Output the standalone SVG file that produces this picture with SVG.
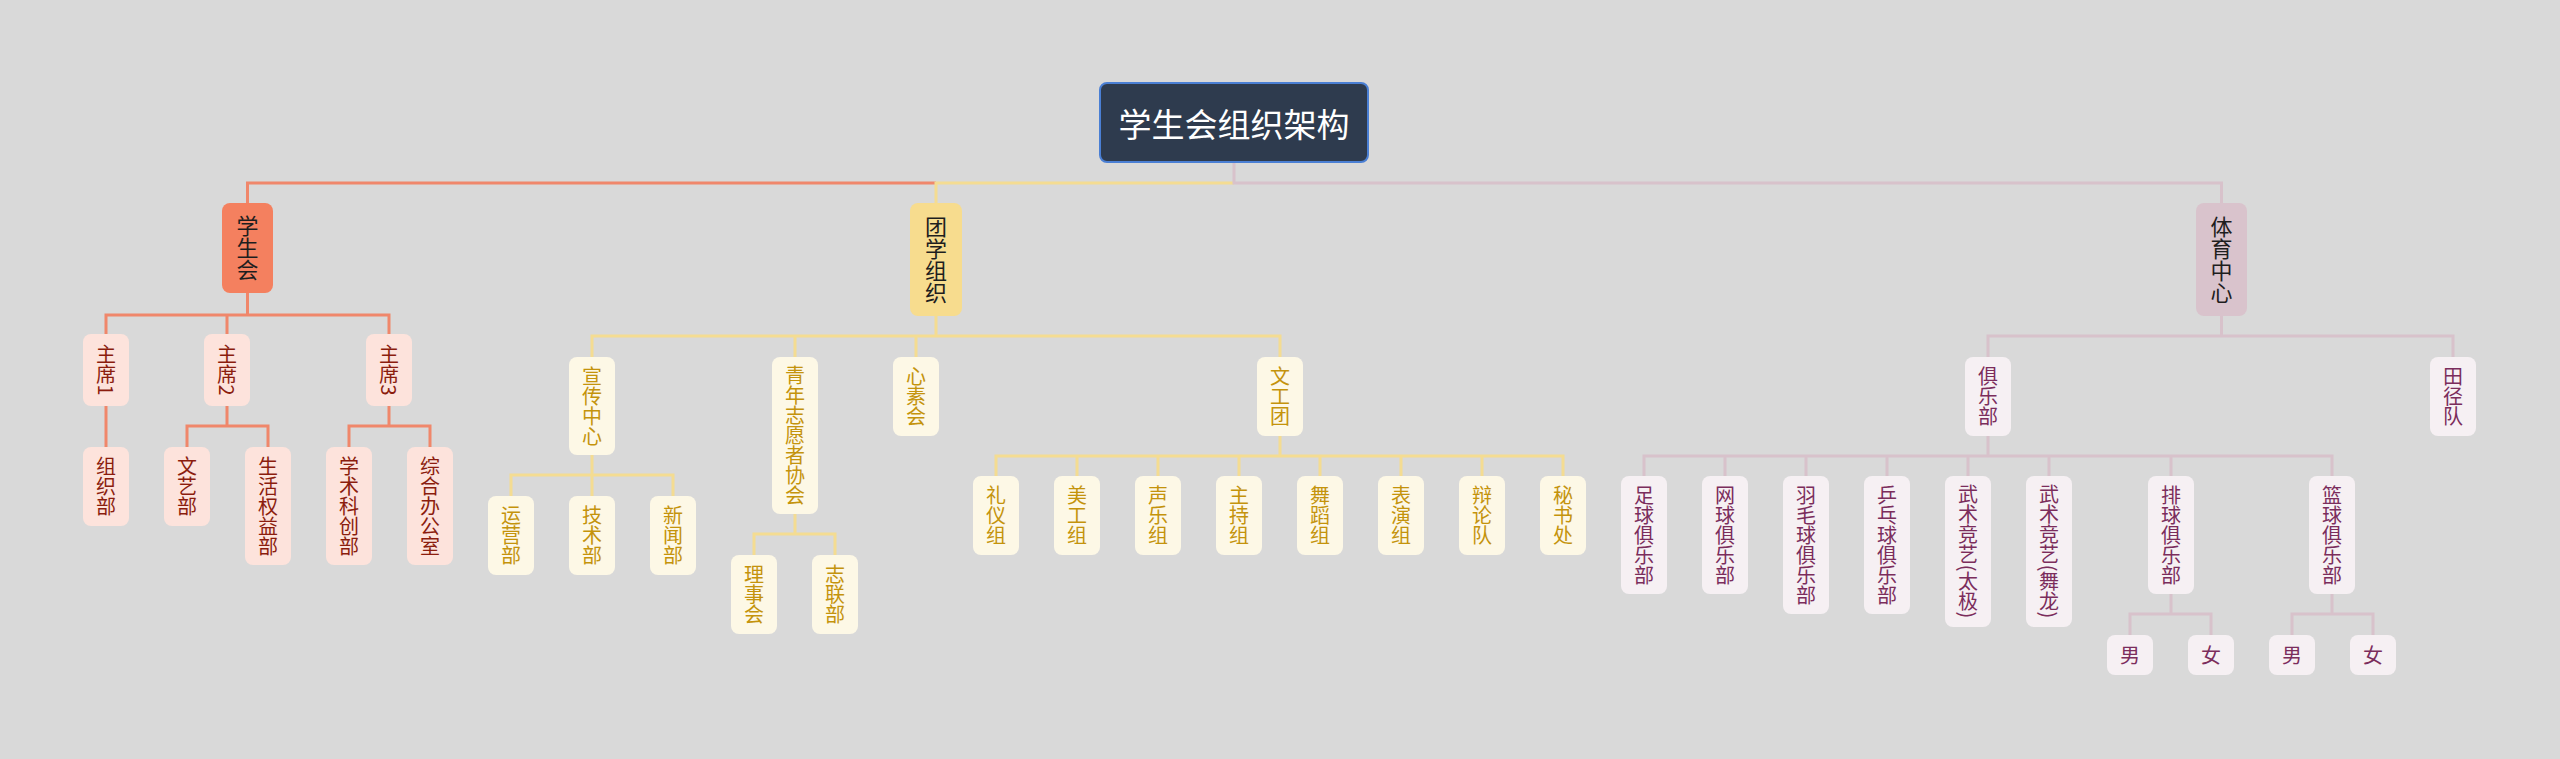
<svg xmlns="http://www.w3.org/2000/svg" width="2560" height="759" viewBox="0 0 2560 759">
<style>
text{font-family:"Noto Sans CJK SC","Noto Sans",sans-serif;}
.v{writing-mode:vertical-rl;text-anchor:middle;font-size:20px;}
.vl{writing-mode:vertical-rl;text-anchor:middle;font-size:22px;fill:#1e1e1e;}
.ln{fill:none;stroke-width:3;}
.lo{stroke:#f0876b;}
.ly{stroke:#f4dc92;}
.lp{stroke:#d8c2cb;}
.n1{fill:#fde3dc;} .t1{fill:#8b1d0e;}
.n2{fill:#fdf8e6;} .t2{fill:#c4930c;}
.n3{fill:#f6f0f3;} .t3{fill:#7b2d5c;}
</style>
<rect width="2560" height="759" fill="#d9d9d9"/>
<g id="connectors">
<path class="ln lo" d="M936,183 H247.5 V203"/>
<path class="ln ly" d="M1234,183 H936 V203"/>
<path class="ln lp" d="M1234,163 V183 H2221.5 V203"/>
<path class="ln lo" d="M247.5,293 V315 M106,334 V315 H389 V334 M227,315 V334"/>
<path class="ln lo" d="M106,406 V447"/>
<path class="ln lo" d="M227,406 V426 M187,447 V426 H268 V447"/>
<path class="ln lo" d="M389,406 V426 M349,447 V426 H430 V447"/>
<path class="ln ly" d="M936,316 V336 M592,357 V336 H1280 V357 M795,336 V357 M916,336 V357"/>
<path class="ln ly" d="M592,455 V496 M511,496 V475 H673 V496"/>
<path class="ln ly" d="M795,514 V534 M754,555 V534 H835 V555"/>
<path class="ln ly" d="M1280,436 V456 M996,476 V456 H1563 V476 M1077,456 V476 M1158,456 V476 M1239,456 V476 M1320,456 V476 M1401,456 V476 M1482,456 V476"/>
<path class="ln lp" d="M2221.5,316 V336 M1988,357 V336 H2453 V357"/>
<path class="ln lp" d="M1988,436 V456 M1644,476 V456 H2332 V476 M1725,456 V476 M1806,456 V476 M1887,456 V476 M1968,456 V476 M2049,456 V476 M2171,456 V476"/>
<path class="ln lp" d="M2171,594 V614 M2130,635 V614 H2211 V635"/>
<path class="ln lp" d="M2332,594 V614 M2292,635 V614 H2373 V635"/>
</g>
<g id="root">
<rect x="1100" y="83" width="268" height="79" rx="7" fill="#2e3b4e" stroke="#4a7fd4" stroke-width="2"/>
<text x="1234" y="123" font-size="33" fill="#ffffff" text-anchor="middle" dominant-baseline="central">学生会组织架构</text>
</g>
<g id="xueshenghui">
<rect x="222" y="203" width="51" height="90" rx="8" fill="#f4805f"/>
<text class="vl" x="247.5" y="248">学生会</text>
</g>
<g id="tuanxue">
<rect x="910" y="203" width="52" height="113" rx="8" fill="#f7dc8e"/>
<text class="vl" x="936" y="259.5">团学组织</text>
</g>
<g id="tiyu">
<rect x="2196" y="203" width="51" height="113" rx="8" fill="#d9c3cc"/>
<text class="vl" x="2221.5" y="259.5">体育中心</text>
</g>
<g id="zhuxi1"><rect class="n1" x="83" y="334" width="46" height="72" rx="8"/><text class="v t1" x="106" y="370">主席1</text></g>
<g id="zhuxi2"><rect class="n1" x="204" y="334" width="46" height="72" rx="8"/><text class="v t1" x="227" y="370">主席2</text></g>
<g id="zhuxi3"><rect class="n1" x="366" y="334" width="46" height="72" rx="8"/><text class="v t1" x="389" y="370">主席3</text></g>
<g id="zuzhibu"><rect class="n1" x="83" y="447" width="46" height="79" rx="8"/><text class="v t1" x="106" y="486.5">组织部</text></g>
<g id="wenyibu"><rect class="n1" x="164" y="447" width="46" height="79" rx="8"/><text class="v t1" x="187" y="486.5">文艺部</text></g>
<g id="shenghuo"><rect class="n1" x="245" y="447" width="46" height="118" rx="8"/><text class="v t1" x="268" y="506">生活权益部</text></g>
<g id="xueshu"><rect class="n1" x="326" y="447" width="46" height="118" rx="8"/><text class="v t1" x="349" y="506">学术科创部</text></g>
<g id="zonghe"><rect class="n1" x="407" y="447" width="46" height="118" rx="8"/><text class="v t1" x="430" y="506">综合办公室</text></g>
<g id="xuanchuan"><rect class="n2" x="569" y="357" width="46" height="98" rx="8"/><text class="v t2" x="592" y="406">宣传中心</text></g>
<g id="qingnian"><rect class="n2" x="772" y="357" width="46" height="157" rx="8"/><text class="v t2" x="795" y="435.5">青年志愿者协会</text></g>
<g id="xinsu"><rect class="n2" x="893" y="357" width="46" height="79" rx="8"/><text class="v t2" x="916" y="396.5">心素会</text></g>
<g id="wengong"><rect class="n2" x="1257" y="357" width="46" height="79" rx="8"/><text class="v t2" x="1280" y="396.5">文工团</text></g>
<g id="yunying"><rect class="n2" x="488" y="496" width="46" height="79" rx="8"/><text class="v t2" x="511" y="535.5">运营部</text></g>
<g id="jishu"><rect class="n2" x="569" y="496" width="46" height="79" rx="8"/><text class="v t2" x="592" y="535.5">技术部</text></g>
<g id="xinwen"><rect class="n2" x="650" y="496" width="46" height="79" rx="8"/><text class="v t2" x="673" y="535.5">新闻部</text></g>
<g id="lishi"><rect class="n2" x="731" y="555" width="46" height="79" rx="8"/><text class="v t2" x="754" y="594.5">理事会</text></g>
<g id="zhilian"><rect class="n2" x="812" y="555" width="46" height="79" rx="8"/><text class="v t2" x="835" y="594.5">志联部</text></g>
<g id="liyi"><rect class="n2" x="973" y="476" width="46" height="79" rx="8"/><text class="v t2" x="996" y="515.5">礼仪组</text></g>
<g id="meigong"><rect class="n2" x="1054" y="476" width="46" height="79" rx="8"/><text class="v t2" x="1077" y="515.5">美工组</text></g>
<g id="shengyue"><rect class="n2" x="1135" y="476" width="46" height="79" rx="8"/><text class="v t2" x="1158" y="515.5">声乐组</text></g>
<g id="zhuchi"><rect class="n2" x="1216" y="476" width="46" height="79" rx="8"/><text class="v t2" x="1239" y="515.5">主持组</text></g>
<g id="wudao"><rect class="n2" x="1297" y="476" width="46" height="79" rx="8"/><text class="v t2" x="1320" y="515.5">舞蹈组</text></g>
<g id="biaoyan"><rect class="n2" x="1378" y="476" width="46" height="79" rx="8"/><text class="v t2" x="1401" y="515.5">表演组</text></g>
<g id="bianlun"><rect class="n2" x="1459" y="476" width="46" height="79" rx="8"/><text class="v t2" x="1482" y="515.5">辩论队</text></g>
<g id="mishu"><rect class="n2" x="1540" y="476" width="46" height="79" rx="8"/><text class="v t2" x="1563" y="515.5">秘书处</text></g>
<g id="julebu"><rect class="n3" x="1965" y="357" width="46" height="79" rx="8"/><text class="v t3" x="1988" y="396.5">俱乐部</text></g>
<g id="tianjing"><rect class="n3" x="2430" y="357" width="46" height="79" rx="8"/><text class="v t3" x="2453" y="396.5">田径队</text></g>
<g id="zuqiu"><rect class="n3" x="1621" y="476" width="46" height="118" rx="8"/><text class="v t3" x="1644" y="535">足球俱乐部</text></g>
<g id="wangqiu"><rect class="n3" x="1702" y="476" width="46" height="118" rx="8"/><text class="v t3" x="1725" y="535">网球俱乐部</text></g>
<g id="yumao"><rect class="n3" x="1783" y="476" width="46" height="138" rx="8"/><text class="v t3" x="1806" y="545">羽毛球俱乐部</text></g>
<g id="pingpang"><rect class="n3" x="1864" y="476" width="46" height="138" rx="8"/><text class="v t3" x="1887" y="545">乒乓球俱乐部</text></g>
<g id="taiji"><rect class="n3" x="1945" y="476" width="46" height="151" rx="8"/><text class="v t3" x="1968" y="551.5">武术竞艺(太极)</text></g>
<g id="wulong"><rect class="n3" x="2026" y="476" width="46" height="151" rx="8"/><text class="v t3" x="2049" y="551.5">武术竞艺(舞龙)</text></g>
<g id="paiqiu"><rect class="n3" x="2148" y="476" width="46" height="118" rx="8"/><text class="v t3" x="2171" y="535">排球俱乐部</text></g>
<g id="lanqiu"><rect class="n3" x="2309" y="476" width="46" height="118" rx="8"/><text class="v t3" x="2332" y="535">篮球俱乐部</text></g>
<g id="pai-nan"><rect class="n3" x="2107" y="635" width="46" height="40" rx="8"/><text class="v t3" x="2130" y="655">男</text></g>
<g id="pai-nv"><rect class="n3" x="2188" y="635" width="46" height="40" rx="8"/><text class="v t3" x="2211" y="655">女</text></g>
<g id="lan-nan"><rect class="n3" x="2269" y="635" width="46" height="40" rx="8"/><text class="v t3" x="2292" y="655">男</text></g>
<g id="lan-nv"><rect class="n3" x="2350" y="635" width="46" height="40" rx="8"/><text class="v t3" x="2373" y="655">女</text></g>
</svg>
